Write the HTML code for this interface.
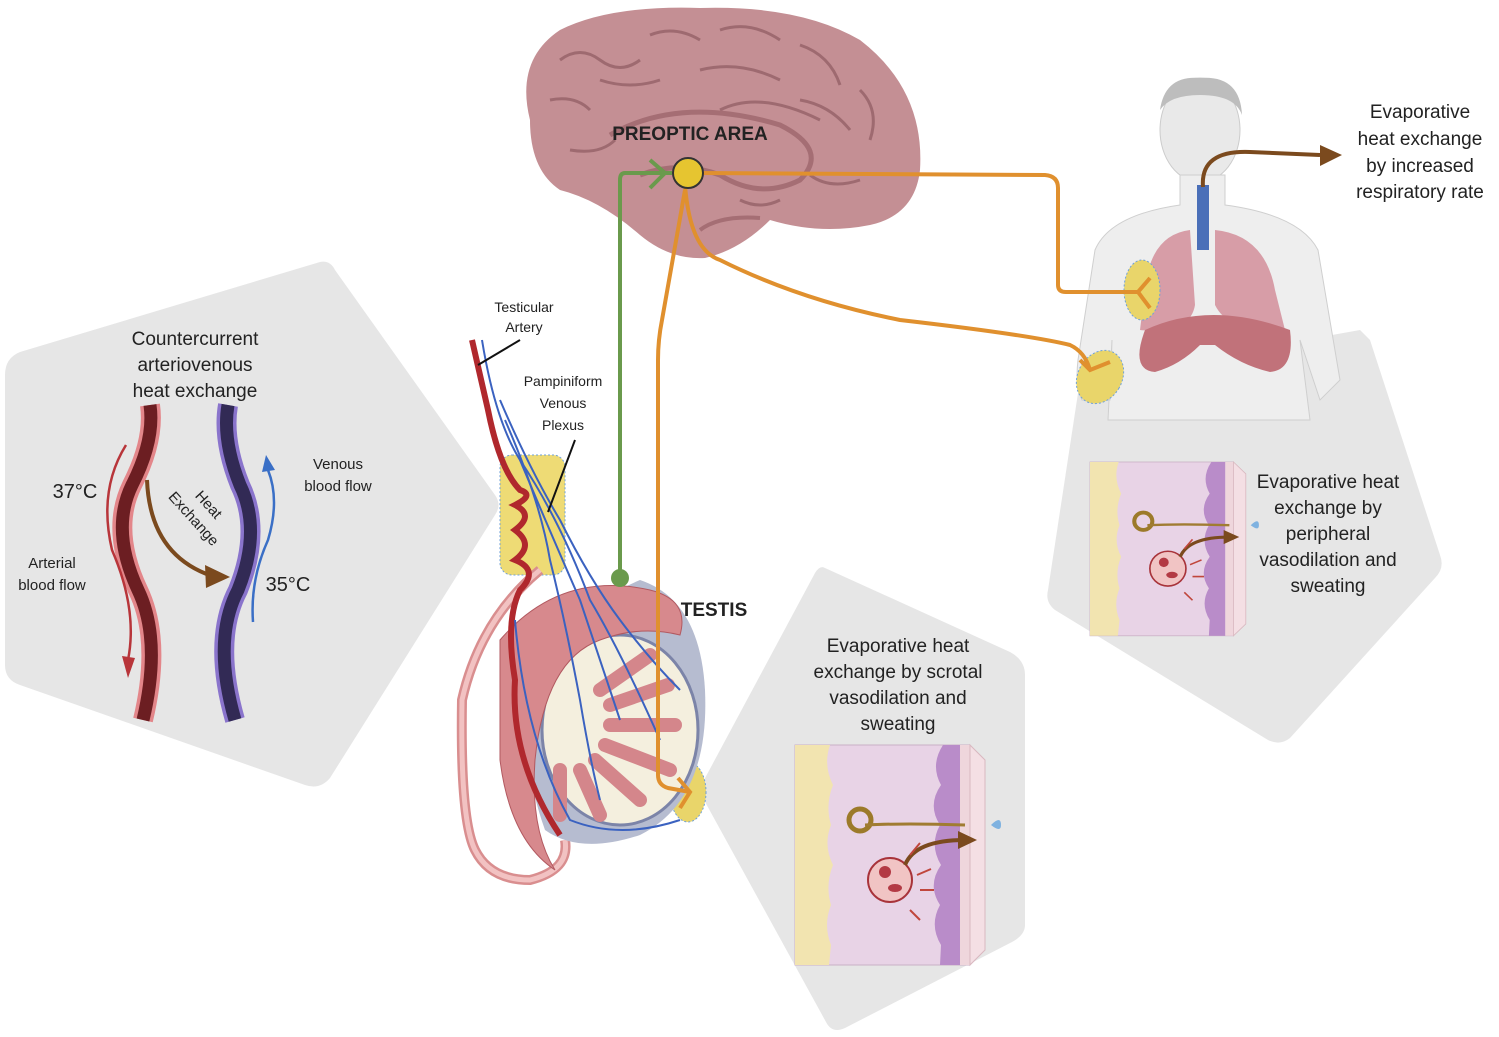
<!DOCTYPE html>
<html><head><meta charset="utf-8"><style>
html,body{margin:0;padding:0;background:#fff}
svg{display:block}
text{font-family:"Liberation Sans",sans-serif;fill:#222}
</style></head><body>
<svg width="1499" height="1037" viewBox="0 0 1499 1037" xmlns="http://www.w3.org/2000/svg">
<defs>
<g id="skin">
<rect x="0" y="0" width="175" height="220" fill="#e8d3e6" stroke="#c9b0c5"/>
<path d="M0 0 H35 Q28 20 38 40 Q30 60 36 80 Q28 100 38 120 Q30 140 36 160 Q28 180 36 200 L34 220 H0Z" fill="#f2e4b0"/>
<path d="M148 0 Q135 20 146 40 Q132 60 145 80 Q134 100 146 120 Q132 140 145 160 Q134 180 146 200 L145 220 H165 V0Z" fill="#b98cc9"/>
<rect x="165" y="0" width="10" height="220" fill="#efd6dc"/>
<path d="M175 0 L190 15 V205 L175 220Z" fill="#f4dfe4" stroke="#d9b8c0"/>
<circle cx="65" cy="75" r="11" fill="none" stroke="#9c7a2a" stroke-width="5"/>
<path d="M70 80 Q110 78 170 80" stroke="#a07c32" stroke-width="3" fill="none"/>
<path d="M196 80 q10 -10 10 0 q0 8 -10 0z" fill="#7fb2e0"/>
<circle cx="95" cy="135" r="22" fill="#f1c4c4" stroke="#a8333a" stroke-width="2"/>
<circle cx="90" cy="127" r="6" fill="#b33a44"/><ellipse cx="100" cy="143" rx="7" ry="4" fill="#b33a44"/>
<path d="M110 120 Q120 95 170 95" stroke="#7b4a1e" stroke-width="4" fill="none"/>
<path d="M163 86 L182 95 L163 104Z" fill="#7b4a1e"/>
<path d="M115 110 l10 -12 M122 130 l14 -6 M125 145 l14 0 M115 165 l10 10" stroke="#c0463c" stroke-width="2"/>
</g>
</defs>

<!-- gray panels -->
<path d="M320 262 L20 352 Q5 358 5 375 L5 665 Q5 680 20 685 L305 785 Q320 790 330 778 L495 515 Q502 505 495 495 L335 270 Q330 260 320 262Z" fill="#e6e6e6"/>
<path d="M825 568 L1010 652 Q1025 660 1025 675 L1025 925 Q1025 935 1012 942 L845 1028 Q832 1034 826 1022 L704 800 Q698 790 704 780 L815 573 Q820 565 825 568Z" fill="#e6e6e6"/>
<path d="M1370 340 L1440 555 Q1445 568 1435 578 L1290 738 Q1280 746 1268 740 L1055 610 Q1045 602 1048 590 L1080 380 L1360 330Z" fill="#e6e6e6"/>

<!-- left panel content -->
<text x="195" y="345" font-size="19" text-anchor="middle">Countercurrent</text>
<text x="195" y="371" font-size="19" text-anchor="middle">arteriovenous</text>
<text x="195" y="397" font-size="19" text-anchor="middle">heat exchange</text>
<path d="M150 405 Q155 440 132 485 Q110 530 138 590 Q162 640 143 720" stroke="#e3868a" stroke-width="20" fill="none"/>
<path d="M150 405 Q155 440 132 485 Q110 530 138 590 Q162 640 143 720" stroke="#6c1e22" stroke-width="13" fill="none"/>
<path d="M228 405 Q222 440 240 485 Q262 530 238 590 Q212 640 235 720" stroke="#8a74cc" stroke-width="20" fill="none"/>
<path d="M228 405 Q222 440 240 485 Q262 530 238 590 Q212 640 235 720" stroke="#322a55" stroke-width="13" fill="none"/>
<path d="M126 445 Q98 490 112 550 Q138 610 128 660" stroke="#b8353a" stroke-width="2.5" fill="none"/>
<path d="M122 656 L128 678 L135 658Z" fill="#b8353a"/>
<path d="M253 622 Q250 580 268 540 Q280 500 268 470" stroke="#3a6fc6" stroke-width="2.5" fill="none"/>
<path d="M262 472 L266 455 L275 470Z" fill="#3a6fc6"/>
<path d="M147 480 Q150 555 212 576" stroke="#7b4a1e" stroke-width="4" fill="none"/>
<path d="M205 565 L230 577 L206 588Z" fill="#7b4a1e"/>
<text x="75" y="498" font-size="20" text-anchor="middle">37°C</text>
<text x="288" y="591" font-size="20" text-anchor="middle">35°C</text>
<text x="52" y="568" font-size="15" text-anchor="middle">Arterial</text>
<text x="52" y="590" font-size="15" text-anchor="middle">blood flow</text>
<text x="338" y="469" font-size="15" text-anchor="middle">Venous</text>
<text x="338" y="491" font-size="15" text-anchor="middle">blood flow</text>
<text transform="translate(190,522) rotate(48)" font-size="15" text-anchor="middle">Exchange</text>
<text transform="translate(205,508) rotate(48)" font-size="15" text-anchor="middle">Heat</text>

<!-- brain -->
<path d="M530 120 Q515 60 560 30 Q610 5 700 8 Q800 5 860 40 Q925 90 920 170 Q915 215 870 225 Q820 235 770 220 Q740 250 705 258 Q670 260 640 235 Q600 200 560 190 Q530 170 530 120Z" fill="#c48f94"/>
<path d="M560 60 q20 -15 40 0 q20 15 40 0 M650 35 q25 -10 50 5 M720 30 q30 -10 60 10 M800 45 q30 10 40 40 M860 90 q20 20 10 50 M550 100 q25 -5 40 10 M600 80 q30 10 60 0 M700 70 q40 -10 80 10 M800 100 q30 5 50 30 M570 150 q30 5 45 -10 M860 180 q-30 10 -50 -5 M780 200 q-20 10 -40 0 M720 110 q40 -20 100 10" stroke="#9e6a70" stroke-width="3" fill="none"/>
<path d="M610 135 Q680 95 780 125 Q830 150 800 180 Q760 200 720 175 Q680 160 640 175" stroke="#a56e74" stroke-width="5" fill="none"/>
<path d="M700 230 Q720 215 760 218" stroke="#a56e74" stroke-width="4" fill="none"/>
<text x="690" y="140" font-size="19" font-weight="bold" text-anchor="middle" fill="#1e1e1e">PREOPTIC AREA</text>

<!-- person -->
<ellipse cx="1200" cy="130" rx="40" ry="52" fill="#e9e9e9" stroke="#ccc"/>
<path d="M1160 110 Q1165 75 1200 78 Q1240 75 1242 115 Q1235 95 1200 95 Q1170 95 1160 110Z" fill="#bdbdbd"/>
<path d="M1180 175 L1180 205 Q1110 215 1095 250 L1078 360 Q1075 385 1082 400 L1110 400 L1112 340 L1108 420 L1310 420 L1300 340 L1320 400 L1340 380 L1318 250 Q1300 215 1225 205 L1225 175Z" fill="#eeeeee" stroke="#cfcfcf"/>
<path d="M1190 230 Q1150 235 1145 290 L1140 330 Q1190 335 1195 305Z" fill="#d79da7"/>
<path d="M1215 230 Q1265 235 1275 290 L1285 330 Q1230 335 1215 305Z" fill="#d79da7"/>
<rect x="1197" y="185" width="12" height="65" fill="#4a6fb8"/>
<path d="M1145 330 Q1210 300 1290 330 Q1295 370 1270 372 Q1240 365 1215 345 L1200 345 Q1180 365 1155 372 Q1130 370 1145 330Z" fill="#c1727a"/>
<path d="M1203 187 Q1200 150 1250 152 L1320 155" stroke="#7b4a1e" stroke-width="4" fill="none"/>
<path d="M1320 145 L1342 155 L1320 166Z" fill="#7b4a1e"/>
<text x="1420" y="118" font-size="19" text-anchor="middle">Evaporative</text>
<text x="1420" y="145" font-size="19" text-anchor="middle">heat exchange</text>
<text x="1420" y="172" font-size="19" text-anchor="middle">by increased</text>
<text x="1420" y="198" font-size="19" text-anchor="middle">respiratory rate</text>

<!-- yellow targets -->
<ellipse cx="1142" cy="290" rx="18" ry="30" fill="#e9d56a" stroke="#6fa0d8" stroke-dasharray="2 2"/>
<ellipse cx="1100" cy="377" rx="22" ry="28" transform="rotate(30 1100 377)" fill="#e9d56a" stroke="#6fa0d8" stroke-dasharray="2 2"/>
<rect x="500" y="455" width="65" height="120" rx="12" fill="#eedb75" stroke="#6fa0d8" stroke-dasharray="2 2"/>
<ellipse cx="688" cy="792" rx="18" ry="30" fill="#e9d56a" stroke="#6fa0d8" stroke-dasharray="2 2"/>

<!-- testis -->
<path d="M540 570 Q480 620 462 700 Q460 820 475 850 Q490 880 530 880 Q570 870 565 840" stroke="#d98e8f" stroke-width="10" fill="none"/>
<path d="M540 570 Q480 620 462 700 Q460 820 475 850 Q490 880 530 880 Q570 870 565 840" stroke="#f2c2c2" stroke-width="5" fill="none"/>
<path d="M640 580 Q700 600 705 690 Q710 800 640 835 Q580 855 545 830 Q520 760 530 700 Q545 620 640 580Z" fill="#b6bcd0"/>
<ellipse cx="620" cy="730" rx="78" ry="95" fill="#f4efde" stroke="#7c84a8" stroke-width="3"/>
<path d="M500 640 Q560 570 650 590 Q690 600 680 635 Q640 625 600 640 Q545 660 535 760 Q530 830 555 870 Q510 840 500 760Z" fill="#d7898d" stroke="#b25960"/>
<g stroke="#d4868b" stroke-width="14" stroke-linecap="round" fill="none">
<path d="M600 690 L650 655"/><path d="M610 705 L668 685"/><path d="M610 725 L675 725"/><path d="M605 745 L670 770"/><path d="M595 760 L640 800"/><path d="M580 770 L600 815"/><path d="M560 770 L560 815"/>
</g>
<path d="M472 340 L488 410 Q500 470 520 490 Q535 495 515 505 Q535 515 515 530 Q535 545 515 560 Q540 570 520 590 Q505 620 515 680 Q510 760 560 835" stroke="#b0282d" stroke-width="6" fill="none"/>
<g stroke="#3b62c0" stroke-width="2" fill="none">
<path d="M482 340 Q495 420 520 460 Q545 520 580 600 Q600 660 620 720"/>
<path d="M500 400 Q530 470 560 520 Q590 580 620 620 Q650 660 680 690"/>
<path d="M505 420 Q540 500 550 560 Q565 620 580 700 Q590 760 600 800"/>
<path d="M520 460 Q560 520 590 600 Q620 650 660 740"/>
<path d="M515 620 Q525 740 570 820 Q620 840 680 820"/>
</g>
<path d="M478 365 L520 340" stroke="#111" stroke-width="2"/>
<path d="M548 512 L575 440" stroke="#111" stroke-width="2"/>
<text x="524" y="312" font-size="14" text-anchor="middle">Testicular</text>
<text x="524" y="332" font-size="14" text-anchor="middle">Artery</text>
<text x="563" y="386" font-size="14" text-anchor="middle">Pampiniform</text>
<text x="563" y="408" font-size="14" text-anchor="middle">Venous</text>
<text x="563" y="430" font-size="14" text-anchor="middle">Plexus</text>
<text x="714" y="616" font-size="19" font-weight="bold" text-anchor="middle" fill="#1e1e1e">TESTIS</text>

<!-- nerves -->
<path d="M672 173 L625 173 Q620 173 620 180 L620 578" stroke="#6a9a4c" stroke-width="4" fill="none"/>
<path d="M650 160 L665 173 L650 188" stroke="#6a9a4c" stroke-width="4" fill="none"/>
<circle cx="620" cy="578" r="9" fill="#6a9a4c"/>
<g stroke="#e0902e" stroke-width="4" fill="none">
<path d="M700 173 L1045 175 Q1058 176 1058 188 L1058 285 Q1058 292 1066 292 L1140 292"/>
<path d="M1150 278 L1138 292 L1150 308"/>
<path d="M685 185 Q690 250 720 260 Q800 300 900 320 Q1030 335 1070 345 Q1085 352 1090 370"/>
<path d="M1080 360 L1090 370 L1110 362"/>
<path d="M685 190 L662 320 Q658 340 658 360 L658 775 Q658 785 668 788 L690 792"/>
<path d="M678 778 L690 792 L680 808"/>
</g>
<circle cx="688" cy="173" r="15" fill="#e6c530" stroke="#333" stroke-width="2"/>

<!-- skins -->
<use href="#skin" x="795" y="745"/>
<use href="#skin" transform="translate(1090,462) scale(0.82,0.79)"/>
<text x="898" y="652" font-size="19" text-anchor="middle">Evaporative heat</text>
<text x="898" y="678" font-size="19" text-anchor="middle">exchange by scrotal</text>
<text x="898" y="704" font-size="19" text-anchor="middle">vasodilation and</text>
<text x="898" y="730" font-size="19" text-anchor="middle">sweating</text>
<text x="1328" y="488" font-size="19" text-anchor="middle">Evaporative heat</text>
<text x="1328" y="514" font-size="19" text-anchor="middle">exchange by</text>
<text x="1328" y="540" font-size="19" text-anchor="middle">peripheral</text>
<text x="1328" y="566" font-size="19" text-anchor="middle">vasodilation and</text>
<text x="1328" y="592" font-size="19" text-anchor="middle">sweating</text>
</svg>
</body></html>
